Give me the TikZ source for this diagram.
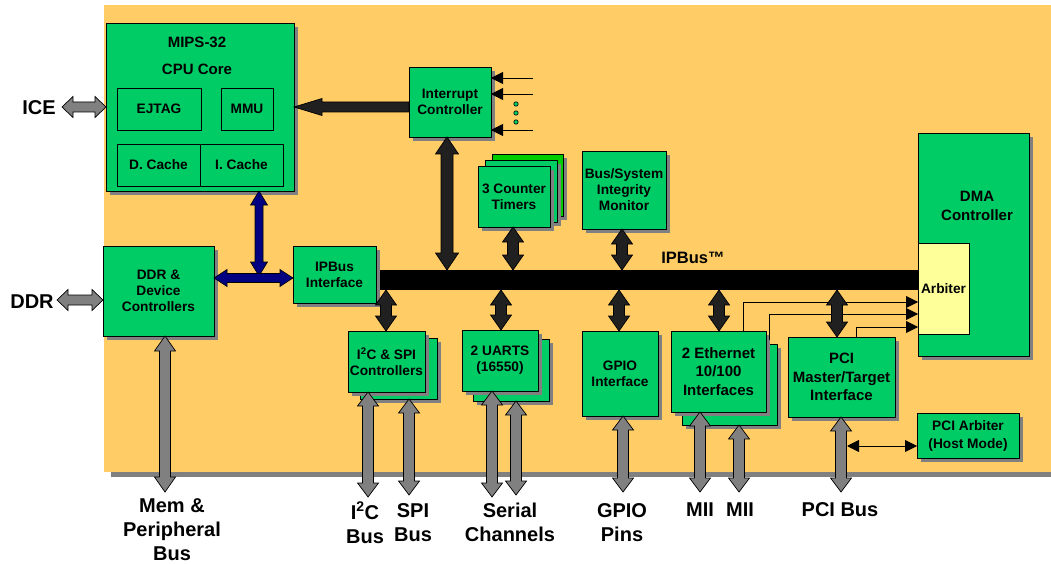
\documentclass[tikz,border=0pt]{standalone}
\usepackage{fontspec}
\setmainfont{Liberation Sans}
\usetikzlibrary{arrows.meta,shadows,calc}
\definecolor{bgor}{HTML}{FFCC66}
\definecolor{bgreen}{HTML}{00CC66}
\definecolor{bgreenb}{HTML}{00CC00}
\definecolor{shgray}{HTML}{808080}
\definecolor{agray}{HTML}{808080}
\definecolor{akk}{HTML}{202020}
\definecolor{navyc}{HTML}{000080}
\definecolor{arbyel}{HTML}{FFFF99}
\newcommand\vdarr[7]{%
 \path[#1] let \p0=(#2,0), \p1=(#3), \p2=(#4) in
 (\x0,\y1) -- (\x0+#6,\y1-#7) -- (\x0+#5,\y1-#7) -- (\x0+#5,\y2+#7) -- (\x0+#6,\y2+#7) -- (\x0,\y2) -- (\x0-#6,\y2+#7) -- (\x0-#5,\y2+#7) -- (\x0-#5,\y1-#7) -- (\x0-#6,\y1-#7) -- cycle;}
\newcommand\hdarr[7]{%
 \path[#1] let \p0=(0,#2), \p1=(#3), \p2=(#4) in
 (\x1,\y0) -- (\x1+#7,\y0+#6) -- (\x1+#7,\y0+#5) -- (\x2-#7,\y0+#5) -- (\x2-#7,\y0+#6) -- (\x2,\y0) -- (\x2-#7,\y0-#6) -- (\x2-#7,\y0-#5) -- (\x1+#7,\y0-#5) -- (\x1+#7,\y0-#6) -- cycle;}
\newcommand\hsarr[7]{%
 \path[#1] let \p0=(0,#2), \p1=(#3), \p2=(#4) in
 (\x1,\y0) -- (\x1+#7,\y0+#6) -- (\x1+#7,\y0+#5) -- (\x2,\y0+#5) -- (\x2,\y0-#5) -- (\x1+#7,\y0-#5) -- (\x1+#7,\y0-#6) -- cycle;}
\tikzset{
 blk/.style={draw=black, line width=0.9pt, fill=bgreen, inner sep=0pt, outer sep=0pt, anchor=north west, align=center, font=\bfseries\fontsize{13.7}{16}\selectfont},
 sh/.style={drop shadow={shadow xshift=4pt, shadow yshift=-4pt, fill=shgray, opacity=1}},
 big/.style={align=center, font=\bfseries\fontsize{15}{18.5}\selectfont},
 outl/.style={inner sep=0pt, align=center, font=\bfseries\fontsize{20}{24}\selectfont},
 garr/.style={fill=agray, draw=black, line width=0.7pt},
 karr/.style={fill=akk, draw=black, line width=0.7pt},
 barr/.style={fill=navyc, draw=black, line width=0.6pt},
 tarr/.style={-{Triangle[length=12pt,width=12pt]}, line width=0.9pt},
 tarrd/.style={{Triangle[length=12pt,width=12pt]}-{Triangle[length=12pt,width=12pt]}, line width=0.9pt},
}
\begin{document}
\begin{tikzpicture}[x=1pt,y=-1pt]
\useasboundingbox (0,0) rectangle (1051,564);
\fill[white] (0,0) rectangle (1051,564);
\fill[shgray] (111,10) rectangle (1051,477);
\fill[bgor] (104,5) rectangle (1051,472);

% CPU
\node[blk,sh,minimum width=188pt,minimum height=168pt] (cpu) at (106,23) {};
\node[big,font=\bfseries\fontsize{15}{18}\selectfont] (cput1) at (197,42) {MIPS-32};
\node[big,font=\bfseries\fontsize{15}{18}\selectfont] (cput2) at (197,69) {CPU Core};
\node[blk,minimum width=84pt,minimum height=42pt] (ejtag) at (117,88) {EJTAG};
\node[blk,minimum width=52pt,minimum height=42pt] (mmu) at (221,88) {MMU};
\node[blk,minimum width=83pt,minimum height=42pt] (dc) at (117,144) {D. Cache};
\node[blk,minimum width=83pt,minimum height=42pt] (ic) at (200,144) {I. Cache};

% Interrupt controller
\node[blk,sh,minimum width=82pt,minimum height=70pt] (intc) at (409,67) {Interrupt\\Controller};

% timers
\node[blk,sh,fill=bgreenb,minimum width=71pt,minimum height=62pt] (tim3) at (492,154) {};
\node[blk,sh,minimum width=72pt,minimum height=62pt] (tim2) at (485,160) {};
\node[blk,sh,minimum width=72pt,minimum height=61pt] (tim) at (478,166) {3 Counter\\Timers};

% monitor
\node[blk,sh,minimum width=84pt,minimum height=78pt] (mon) at (582,151) {Bus/System\\Integrity\\Monitor};

% DMA
\node[blk,sh,minimum width=111pt,minimum height=223pt] (dma) at (918,133) {};
\node[big] (dmat) at (977,206) {DMA\\Controller};
\node[blk,fill=arbyel,minimum width=51pt,minimum height=91pt] (arb) at (918,243) {Arbiter};

% DDR, IPBus interface
\node[blk,sh,minimum width=111pt,minimum height=90pt] (ddr) at (103,246) {DDR \&\\Device\\Controllers};
\node[blk,sh,minimum width=83pt,minimum height=57pt] (ipbi) at (293,246) {IPBus\\Interface};

% bus
\node[fill=black, inner sep=0pt, outer sep=0pt, anchor=north west, minimum width=539pt, minimum height=20pt] (bus) at (380,270) {};
\node[font=\bfseries\fontsize{16.5}{18}\selectfont] (buslbl) at (693,258) {IPBus™};

% lower peripherals
\node[blk,sh,minimum width=77pt,minimum height=61pt] (i2cb) at (360,338) {};
\node[blk,sh,minimum width=77pt,minimum height=61pt] (i2c) at (348,331) {I\textsuperscript{2}C \& SPI\\Controllers};
\node[blk,sh,minimum width=76pt,minimum height=62pt] (uartb) at (473,339) {};
\node[blk,sh,minimum width=76pt,minimum height=61pt] (uart) at (462,330) {2 UARTS\\(16550)};
\node[blk,sh,minimum width=76pt,minimum height=85pt] (gpio) at (582,331) {GPIO\\Interface};
\node[blk,sh,minimum width=95pt,minimum height=81pt] (ethb) at (682,344) {};
\node[blk,sh,big,minimum width=95pt,minimum height=81pt] (eth) at (671,331) {2 Ethernet\\10/100\\Interfaces};
\node[blk,sh,big,minimum width=107pt,minimum height=80pt] (pci) at (788,337) {PCI\\Master/Target\\Interface};
\node[blk,sh,font=\bfseries\fontsize{13.7}{18}\selectfont,minimum width=102pt,minimum height=45pt] (pciarb) at (917,413) {PCI Arbiter\\(Host Mode)};

% outside labels
\node[outl] (ice) at (39,108) {ICE};
\node[outl] (ddrl) at (32,302) {DDR};
\node[outl] (meml) at (172,529.5) {Mem \&\\Peripheral\\Bus};
\node[outl] (i2cl) at (365,522.5) {I\textsuperscript{2}C\\Bus};
\node[outl] (spil) at (413,522.5) {SPI\\Bus};
\node[outl] (serl) at (510,522.5) {Serial\\Channels};
\node[outl] (gpiol) at (622,522.5) {GPIO\\Pins};
\node[outl] (mii1) at (700,510) {MII};
\node[outl] (mii2) at (740,510) {MII};
\node[outl] (pcil) at (840,510) {PCI Bus};

% free-end coordinates
\coordinate (iceE) at (62,107);
\coordinate (ddrE) at (57,300);
\coordinate (memE) at (165,492);
\coordinate (i2cE) at (368,497);
\coordinate (spiE) at (409,495);
\coordinate (ser1E) at (492,497);
\coordinate (ser2E) at (516,495);
\coordinate (gpioE) at (623,492);
\coordinate (mii1E) at (700,492);
\coordinate (mii2E) at (739,492);
\coordinate (pciE) at (841,492);
\coordinate (blueJ) at (259,276);

% interrupt inputs
\draw[tarr] (533,78) -- (intc.east |- 0,78);
\draw[tarr] (533,94) -- (intc.east |- 0,94);
\draw[tarr] (533,130) -- (intc.east |- 0,130);
\foreach \yy in {104,113,122} \draw[fill=bgreen, line width=0.6pt] (516,\yy) circle[radius=2.2pt];

% thin lines into arbiter
\draw[tarr] (743,0 |- eth.north) |- (arb.west |- 0,302);
\draw[tarr] (769,340) |- (arb.west |- 0,314);
\draw[tarr] (856,0 |- pci.north) |- (arb.west |- 0,327);
\draw[tarrd] (847,446) -- (pciarb.west |- 0,446);

% gray arrows
\hdarr{garr}{107}{iceE}{cpu.west}{5pt}{10.5pt}{11pt}
\hdarr{garr}{300}{ddrE}{ddr.west}{5pt}{10.5pt}{11pt}
\vdarr{garr}{165}{ddr.south}{memE}{5.5pt}{10.5pt}{15pt}
\vdarr{garr}{368}{i2c.south}{i2cE}{5.5pt}{10.5pt}{14pt}
\vdarr{garr}{409}{i2cb.south}{spiE}{5.5pt}{10.5pt}{14pt}
\vdarr{garr}{492}{uart.south}{ser1E}{5.5pt}{10.5pt}{14pt}
\vdarr{garr}{516}{uartb.south}{ser2E}{5.5pt}{10.5pt}{14pt}
\vdarr{garr}{623}{gpio.south}{gpioE}{5.5pt}{10.5pt}{14pt}
\vdarr{garr}{700}{eth.south}{mii1E}{5.5pt}{10.5pt}{14pt}
\vdarr{garr}{739}{ethb.south}{mii2E}{5.5pt}{10.5pt}{14pt}
\vdarr{garr}{841}{pci.south}{pciE}{5.5pt}{10.5pt}{14pt}

% black arrows
\hsarr{karr}{107}{cpu.east}{intc.west}{5pt}{8.5pt}{28pt}
\vdarr{karr}{447}{intc.south}{bus.north}{6pt}{11.5pt}{17pt}
\vdarr{karr}{513}{tim.south}{bus.north}{5.5pt}{10.5pt}{15pt}
\vdarr{karr}{622}{mon.south}{bus.north}{5.5pt}{10.5pt}{15pt}
\vdarr{karr}{386}{bus.south}{i2c.north}{5.5pt}{10.5pt}{15pt}
\vdarr{karr}{501}{bus.south}{uart.north}{5.5pt}{10.5pt}{15pt}
\vdarr{karr}{619}{bus.south}{gpio.north}{5.5pt}{10.5pt}{15pt}
\vdarr{karr}{719}{bus.south}{eth.north}{5.5pt}{10.5pt}{15pt}
\vdarr{karr}{837}{bus.south}{pci.north}{5.5pt}{10.5pt}{15pt}

% blue arrows
\vdarr{barr}{259}{cpu.south}{blueJ}{4pt}{8.5pt}{14pt}
\hdarr{barr}{278}{ddr.east}{ipbi.west}{4.5pt}{8.5pt}{13pt}
\end{tikzpicture}
\end{document}
